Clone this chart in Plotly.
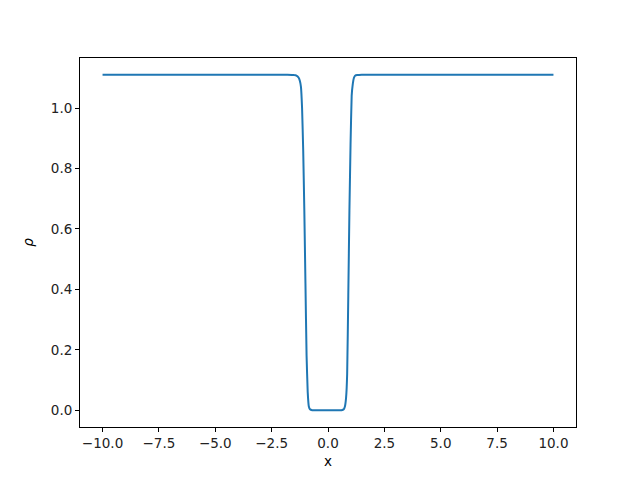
import plotly.graph_objects as go

# density profile
x = [-10.0, -5.0, -2.5, -1.8, -1.5, -1.4, -1.3, -1.25, -1.2, -1.15, -1.1,
     -1.05, -1.0, -0.95, -0.9, -0.85, -0.8, -0.7, -0.5, 0.0, 0.5, 0.6,
     0.7, 0.75, 0.8, 0.85, 0.9, 0.95, 1.0, 1.05, 1.1, 1.15, 1.2, 1.3,
     1.5, 2.5, 5.0, 10.0]
rho = [1.11, 1.11, 1.11, 1.11, 1.109, 1.107, 1.10, 1.09, 1.07, 1.0, 0.86,
       0.66, 0.42, 0.18, 0.06, 0.012, 0.003, 0.0, 0.0, 0.0, 0.0, 0.0,
       0.003, 0.012, 0.04, 0.12, 0.38, 0.66, 0.88, 1.04, 1.08, 1.10, 1.107, 1.109,
       1.11, 1.11, 1.11, 1.11]

x_ticks = [-10.0, -7.5, -5.0, -2.5, 0.0, 2.5, 5.0, 7.5, 10.0]
y_ticks = [0.0, 0.2, 0.4, 0.6, 0.8, 1.0]

fig = go.Figure()
fig.add_trace(go.Scatter(x=x, y=rho, mode="lines",
                         line=dict(color="#1f77b4", width=2, shape="spline", smoothing=0.3)))

axis_style = dict(showline=True, linecolor="black", linewidth=1, mirror=True,
                  ticks="outside", ticklen=4, tickcolor="black", showgrid=False,
                  zeroline=False, tickfont=dict(size=13.5, color="#222"))

fig.update_layout(
    width=640, height=480,
    paper_bgcolor="white", plot_bgcolor="white",
    margin=dict(l=80, r=64, t=58, b=53),
    font=dict(family="DejaVu Sans", color="black"),
    showlegend=False,
    xaxis=dict(range=[-11, 11], tickvals=x_ticks, tickformat=".1f",
               title=dict(text="x", font=dict(size=13.5), standoff=6), **axis_style),
    yaxis=dict(range=[-0.0555, 1.1655], tickvals=y_ticks, tickformat=".1f",
               title=dict(text="<i>ρ</i>", font=dict(size=13.5), standoff=14), **axis_style),
)

# drop the default body margin so the figure sits at the window corner
fig.write_html("out.html", config={"displayModeBar": False},
               post_script="document.body.style.margin='0';")
